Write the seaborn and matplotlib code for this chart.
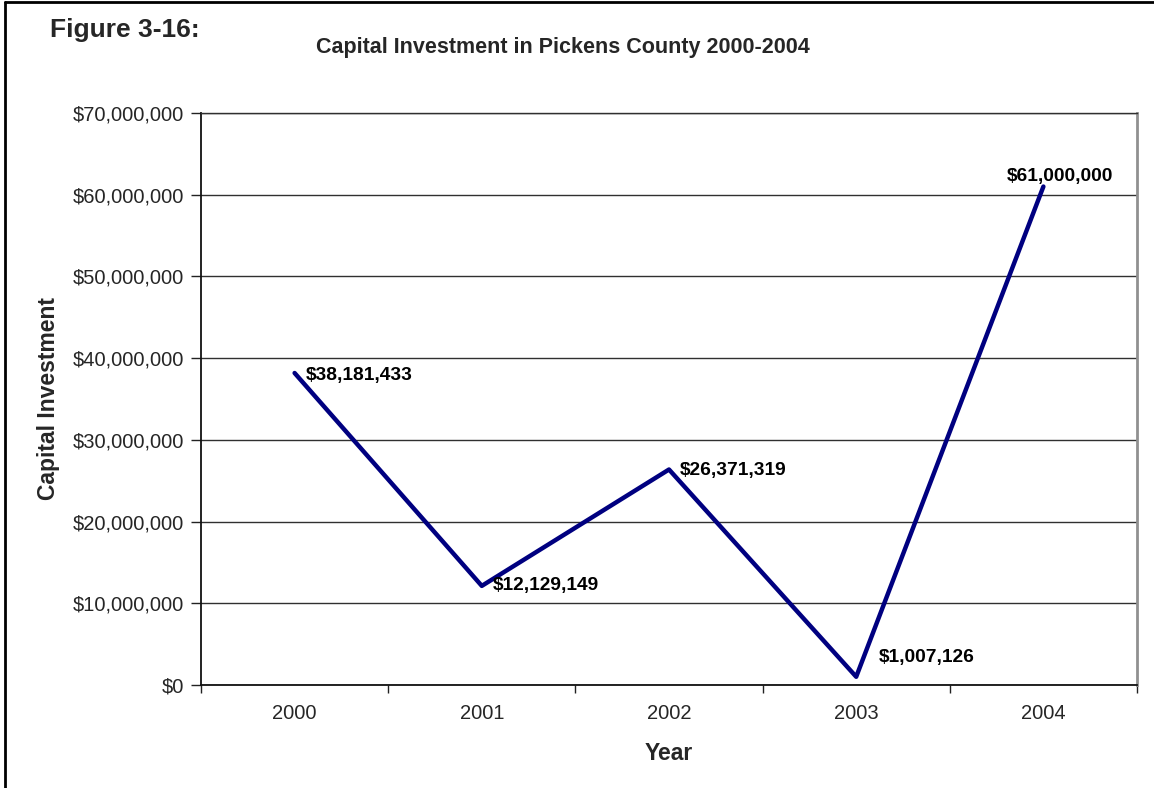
import matplotlib
matplotlib.use("Agg")
import matplotlib.pyplot as plt
from matplotlib.lines import Line2D
from matplotlib.ticker import FuncFormatter, FixedLocator, MultipleLocator
import seaborn as sns
import pandas as pd

years = ["2000", "2001", "2002", "2003", "2004"]
investment = [38181433, 12129149, 26371319, 1007126, 61000000]
# label offsets in points (dx, dy) for each value label
label_offsets = [(8, -2), (8, 0), (8, -1), (16, 14), (12, 7)]

sns.set_style("white")
plt.rcParams["font.family"] = ["Liberation Sans", "DejaVu Sans"]

df = pd.DataFrame({"Year": years, "Investment": investment})

fig = plt.figure(figsize=(11.54, 7.88), dpi=100)
ax = fig.add_axes([201 / 1154, 1 - 685 / 788, (1137 - 201) / 1154, (685 - 113) / 788])

sns.lineplot(data=df, x="Year", y="Investment", ax=ax, color="#000080",
             linewidth=3.2, sort=False)

ax.set_xlim(-0.5, 4.5)
ax.set_ylim(0, 70_000_000)
ax.yaxis.set_major_locator(MultipleLocator(10_000_000))
ax.yaxis.set_major_formatter(FuncFormatter(lambda v, p: f"${v:,.0f}"))
ax.grid(axis="y", color="#303030", linewidth=1.0)
ax.set_axisbelow(True)

# category labels centred, tick marks on the category boundaries
ax.set_xticks(range(len(years)))
ax.set_xticklabels(years)
ax.xaxis.set_minor_locator(FixedLocator([i - 0.5 for i in range(len(years) + 1)]))
ax.tick_params(axis="x", which="major", length=0, pad=14, labelsize=14.5)
ax.tick_params(axis="x", which="minor", length=6, width=1, color="#222222",
               direction="out", bottom=True)
ax.tick_params(axis="y", length=7, width=1, color="#222222", direction="out",
               left=True, pad=5, labelsize=14.5)

for side in ["left", "bottom"]:
    ax.spines[side].set_color("#111111")
    ax.spines[side].set_linewidth(1.3)
ax.spines["right"].set_color("#909090")
ax.spines["right"].set_linewidth(2)
ax.spines["top"].set_color("#303030")
ax.spines["top"].set_linewidth(1.0)

ax.set_xlabel("Year", fontsize=16.5, fontweight="bold", labelpad=13)
ax.set_ylabel("Capital Investment", fontsize=16.5, fontweight="bold", labelpad=9)

for i, (yr, val) in enumerate(zip(years, investment)):
    dx, dy = label_offsets[i]
    ax.annotate(f"${val:,.0f}", xy=(i, val), xytext=(dx, dy),
                textcoords="offset points", ha="left" if i < 4 else "center",
                va="center", fontsize=13.8, fontweight="bold", color="black")

fig.text(50 / 1154, 1 - 30 / 788, "Figure 3-16:", fontsize=19, fontweight="bold",
         ha="left", va="center")
fig.text(563 / 1154, 1 - 47 / 788, "Capital Investment in Pickens County 2000-2004",
         fontsize=15.5, fontweight="bold", ha="center", va="center")

# page frame on the left and top edges
fig.add_artist(Line2D([5 / 1154, 5 / 1154], [0, 1 - 2 / 788], color="black",
                      linewidth=2, transform=fig.transFigure))
fig.add_artist(Line2D([5 / 1154, 1], [1 - 2 / 788, 1 - 2 / 788], color="black",
                      linewidth=2, transform=fig.transFigure))

fig.savefig("out.png", dpi=100, facecolor="white")
